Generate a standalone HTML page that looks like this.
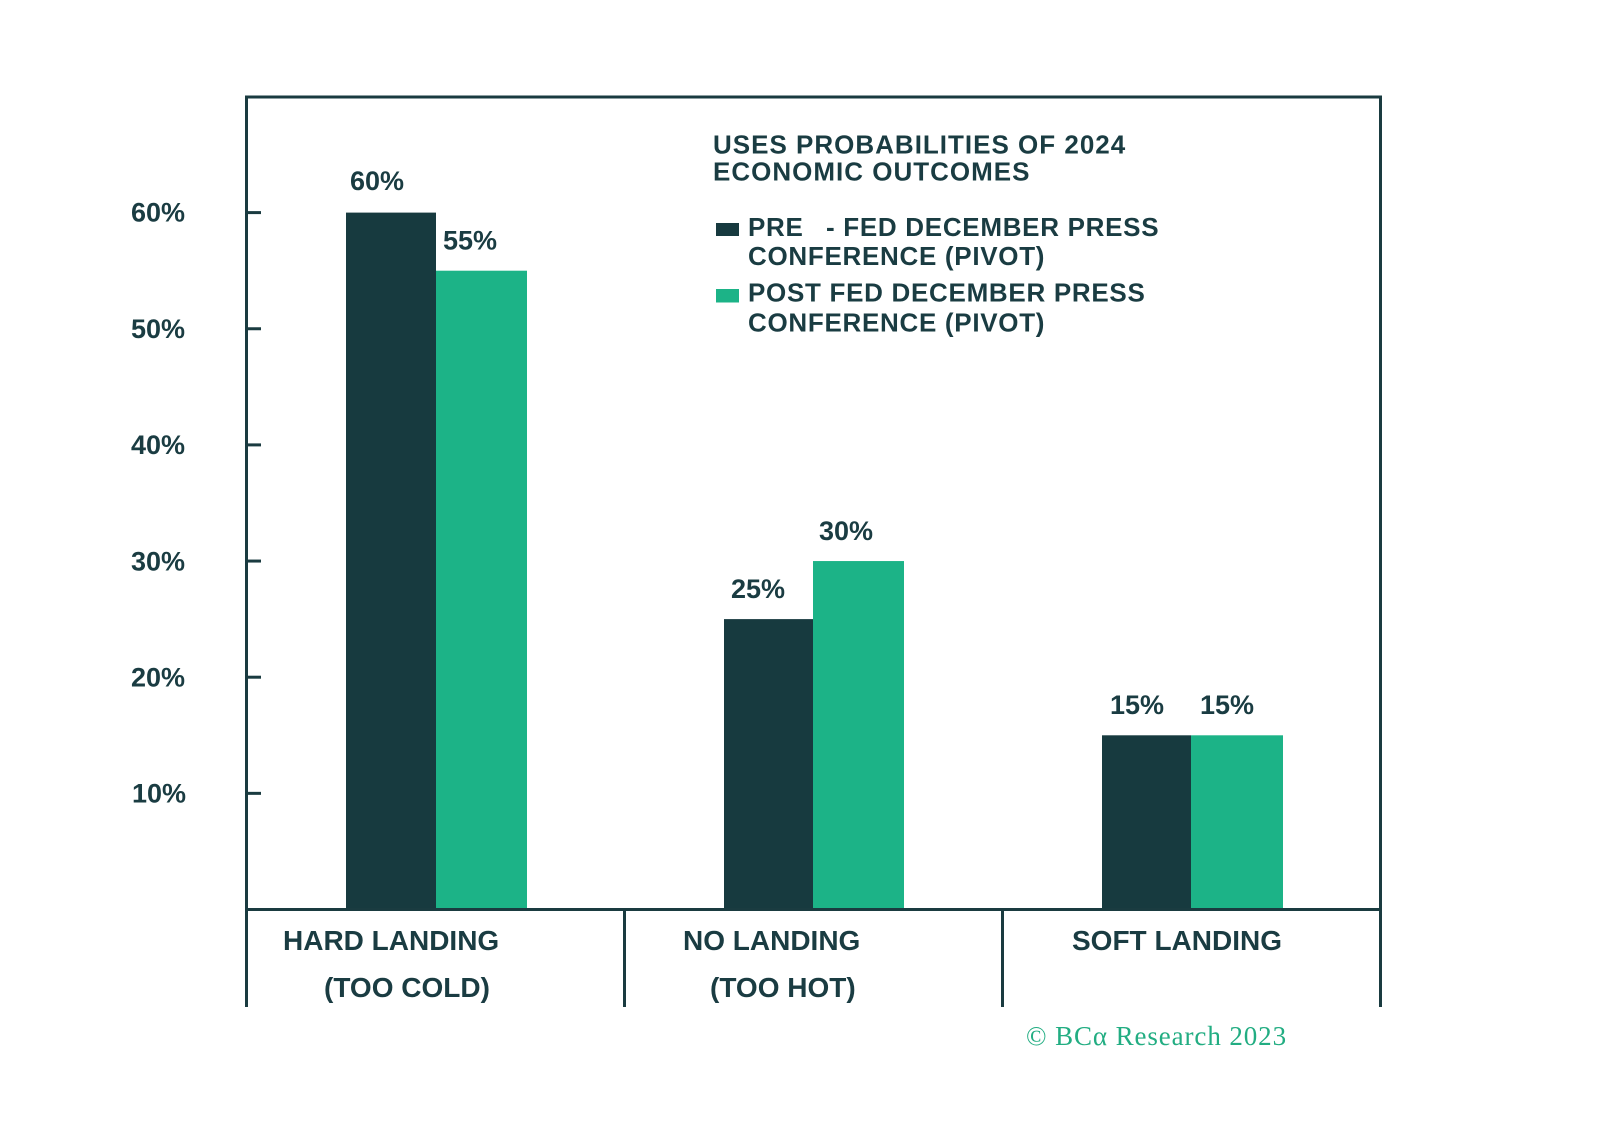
<!DOCTYPE html>
<html>
<head>
<meta charset="utf-8">
<style>
  html, body { margin: 0; padding: 0; background: #ffffff; }
  svg { display: block; }
  .t { font-family: "Liberation Sans", "DejaVu Sans", sans-serif; font-weight: bold; fill: #1a3c42; }
</style>
</head>
<body>
<svg width="1598" height="1144" viewBox="0 0 1598 1144" xmlns="http://www.w3.org/2000/svg">
  <rect x="0" y="0" width="1598" height="1144" fill="#ffffff"/>

  <!-- bars -->
  <rect x="346" y="212.6" width="90" height="697" fill="#173a3f"/>
  <rect x="436" y="270.7" width="91" height="639" fill="#1cb387"/>
  <rect x="724" y="619.1" width="89" height="291" fill="#173a3f"/>
  <rect x="813" y="561.05" width="91" height="349" fill="#1cb387"/>
  <rect x="1102" y="735.3" width="89" height="175" fill="#173a3f"/>
  <rect x="1191" y="735.3" width="92" height="175" fill="#1cb387"/>

  <!-- frame -->
  <g stroke="#1a3b40" stroke-width="3" fill="none">
    <line x1="246.5" y1="95.5" x2="246.5" y2="1007"/>
    <line x1="1380.5" y1="95.5" x2="1380.5" y2="1007"/>
    <line x1="245" y1="97" x2="1382" y2="97"/>
    <line x1="245" y1="909.5" x2="1382" y2="909.5"/>
    <line x1="624.5" y1="909" x2="624.5" y2="1007"/>
    <line x1="1002.5" y1="909" x2="1002.5" y2="1007"/>
    <!-- ticks -->
    <line x1="246" y1="212.6" x2="261" y2="212.6"/>
    <line x1="246" y1="328.75" x2="261" y2="328.75"/>
    <line x1="246" y1="444.9" x2="261" y2="444.9"/>
    <line x1="246" y1="561.05" x2="261" y2="561.05"/>
    <line x1="246" y1="677.2" x2="261" y2="677.2"/>
    <line x1="246" y1="793.35" x2="261" y2="793.35"/>
  </g>

  <!-- y tick labels -->
  <g class="t" font-size="27" text-anchor="end">
    <text x="185" y="221.5">60%</text>
    <text x="185" y="338">50%</text>
    <text x="185" y="454">40%</text>
    <text x="185" y="570.5">30%</text>
    <text x="185" y="686.5">20%</text>
    <text x="186" y="802.5">10%</text>
  </g>

  <!-- value labels -->
  <g class="t" font-size="27">
    <text x="350" y="190">60%</text>
    <text x="443" y="249.5">55%</text>
    <text x="731" y="598">25%</text>
    <text x="819" y="540">30%</text>
    <text x="1110" y="714">15%</text>
    <text x="1200" y="714">15%</text>
  </g>

  <!-- title -->
  <g class="t" font-size="26" letter-spacing="1">
    <text x="713" y="153.3">USES PROBABILITIES OF 2024</text>
    <text x="713" y="180.7">ECONOMIC OUTCOMES</text>
  </g>

  <!-- legend -->
  <rect x="716" y="223" width="23" height="13" fill="#173a3f"/>
  <rect x="716" y="289" width="23" height="13.5" fill="#1cb387"/>
  <g class="t" font-size="26" letter-spacing="0.7">
    <text x="748" y="236">PRE</text>
    <text x="826" y="236">- FED DECEMBER PRESS</text>
    <text x="748" y="265">CONFERENCE (PIVOT)</text>
    <text x="748" y="301.7">POST FED DECEMBER PRESS</text>
    <text x="748" y="331.7">CONFERENCE (PIVOT)</text>
  </g>

  <!-- category labels -->
  <g class="t" font-size="28">
    <text x="283" y="950">HARD LANDING</text>
    <text x="324" y="997">(TOO COLD)</text>
    <text x="683" y="950">NO LANDING</text>
    <text x="710" y="997">(TOO HOT)</text>
    <text x="1072" y="950">SOFT LANDING</text>
  </g>

  <!-- copyright -->
  <text x="1026" y="1045" font-family="'Liberation Serif', 'DejaVu Serif', serif" font-size="27" letter-spacing="0.9" fill="#22ad82">© BCα Research 2023</text>
</svg>
</body>
</html>
